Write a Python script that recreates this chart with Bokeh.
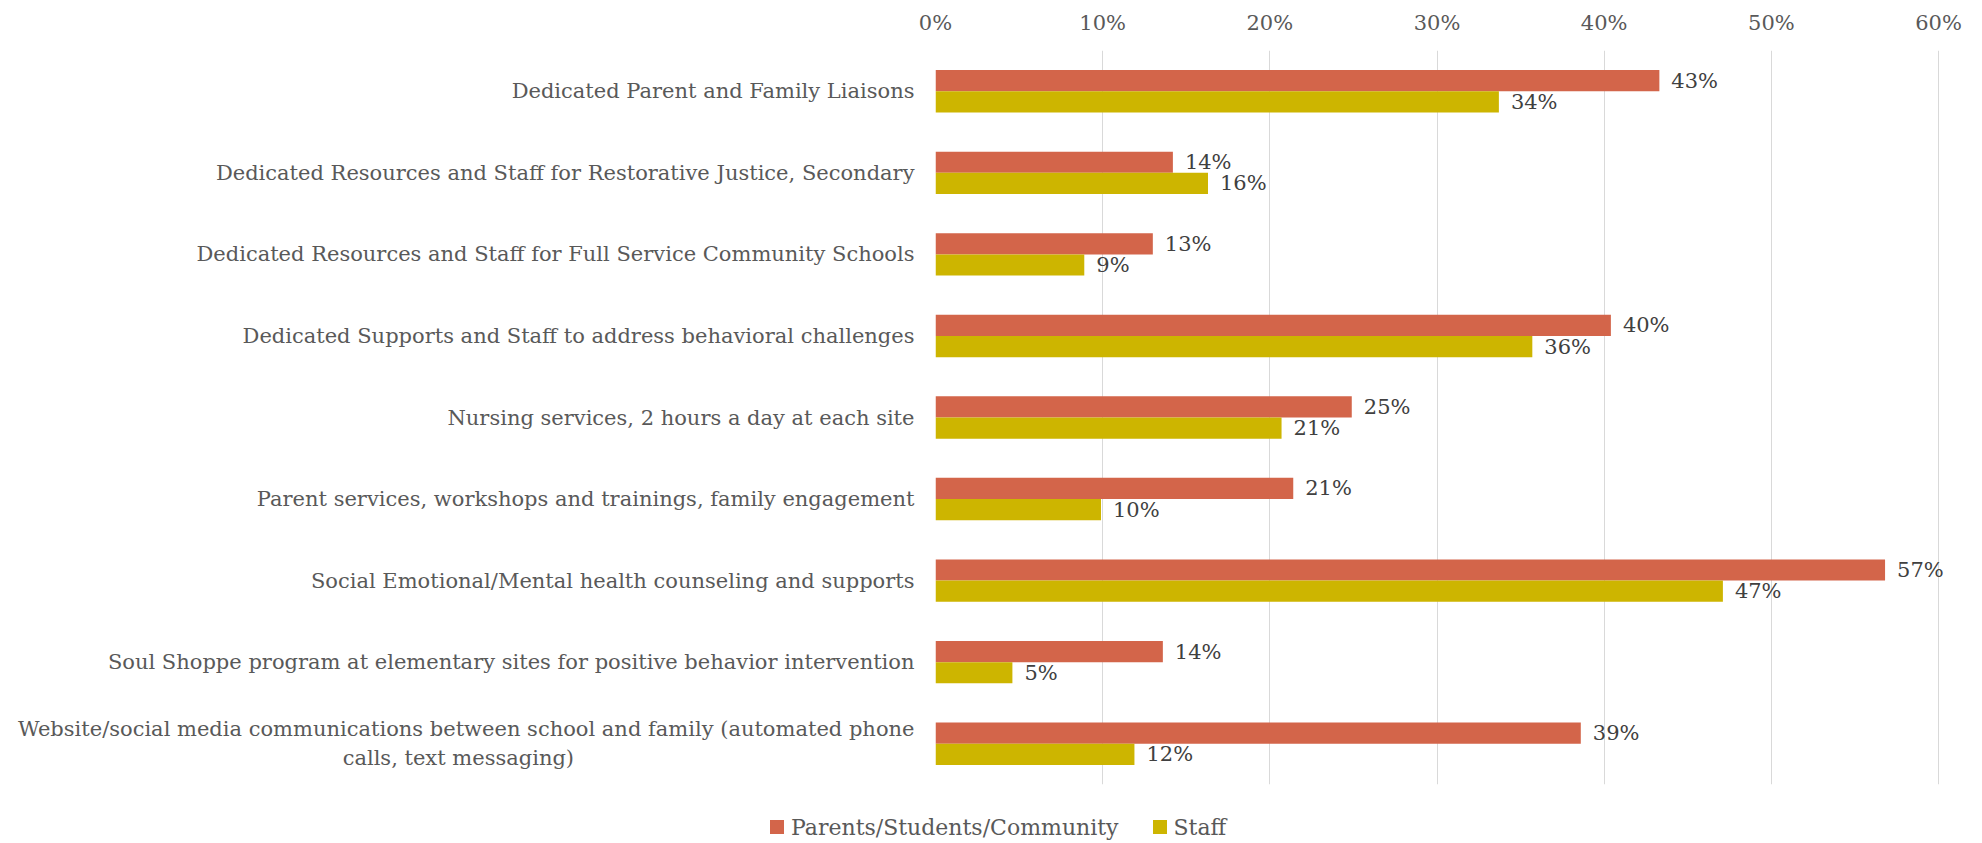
from bokeh.plotting import figure
from bokeh.layouts import column
from bokeh.models import (ColumnDataSource, FactorRange, Range1d, FixedTicker,
                          PrintfTickFormatter, Div)
from bokeh.transform import dodge
from bokeh.embed import file_html
from bokeh.resources import INLINE

categories = [
    "Dedicated Parent and Family Liaisons",
    "Dedicated Resources and Staff for Restorative Justice, Secondary",
    "Dedicated Resources and Staff for Full Service Community Schools",
    "Dedicated Supports and Staff to address behavioral challenges",
    "Nursing services, 2 hours a day at each site",
    "Parent services, workshops and trainings, family engagement",
    "Social Emotional/Mental health counseling and supports",
    "Soul Shoppe program at elementary sites for positive behavior intervention",
    "Website/social media communications between school and family (automated phone\n"
    "calls, text messaging)" + "\u00a0" * 51,
]
parents = [43.3, 14.2, 13.0, 40.4, 24.9, 21.4, 56.8, 13.6, 38.6]
staff = [33.7, 16.3, 8.9, 35.7, 20.7, 9.9, 47.1, 4.6, 11.9]
x_ticks = [0, 10, 20, 30, 40, 50, 60]
series_names = ["Parents/Students/Community", "Staff"]

RED = "#D3654A"
YEL = "#CDB500"
FONT = "DejaVu Serif"
FS = "21px"

src = ColumnDataSource(dict(
    cat=categories,
    parents=parents,
    staff=staff,
    plab=[f"{round(v)}%" for v in parents],
    slab=[f"{round(v)}%" for v in staff],
))

# frame spans 935..1975 px; 60% gridline sits at 1938 px
p = figure(width=1982, height=790, output_backend="svg", toolbar_location=None,
           y_range=FactorRange(factors=list(reversed(categories))),
           x_range=Range1d(0, 62.21), x_axis_location="above",
           min_border_left=935, min_border_right=7, min_border_top=50,
           min_border_bottom=6)
p.outline_line_color = None
p.background_fill_color = "white"

r1 = p.hbar(y=dodge("cat", 0.13, range=p.y_range), right="parents", height=0.26,
            source=src, color=RED, line_color=None)
r2 = p.hbar(y=dodge("cat", -0.13, range=p.y_range), right="staff", height=0.26,
            source=src, color=YEL, line_color=None)

p.text(x="parents", y=dodge("cat", 0.13, range=p.y_range), text="plab", source=src,
       x_offset=12, text_baseline="middle", text_font={"value": FONT},
       text_font_size=FS, text_color="#404040")
p.text(x="staff", y=dodge("cat", -0.13, range=p.y_range), text="slab", source=src,
       x_offset=12, text_baseline="middle", text_font={"value": FONT},
       text_font_size=FS, text_color="#404040")

xa = p.xaxis[0]
xa.ticker = FixedTicker(ticks=x_ticks)
xa.formatter = PrintfTickFormatter(format="%d%%")
xa.axis_line_color = None
xa.major_tick_line_color = None
xa.minor_tick_line_color = None
xa.major_label_text_font = FONT
xa.major_label_text_font_size = FS
xa.major_label_text_color = "#595959"
xa.major_label_standoff = 10

ya = p.yaxis[0]
ya.axis_line_color = None
ya.major_tick_line_color = None
ya.minor_tick_line_color = None
ya.major_label_text_font = FONT
ya.major_label_text_font_size = FS
ya.major_label_text_color = "#595959"
ya.major_label_standoff = 15

p.xgrid.grid_line_color = "#D9D9D9"
p.xgrid.grid_line_width = 1
p.ygrid.grid_line_color = None

# legend strip below the chart
sq = ("display:inline-block;width:14px;height:14px;margin-right:7px;"
      "vertical-align:middle;position:relative;top:-2px;background:{c}")
legend_html = (
    f'<div style="font-family:\'{FONT}\';font-size:22px;color:#595959;'
    f'white-space:nowrap;padding-left:770px;padding-top:26px;line-height:24px">'
    f'<span style="{sq.format(c=RED)}"></span>{series_names[0]}'
    f'<span style="display:inline-block;width:34px"></span>'
    f'<span style="{sq.format(c=YEL)}"></span>{series_names[1]}'
    f'</div>'
)
leg = Div(text=legend_html, width=1982, height=53, margin=0)

layout = column(p, leg, spacing=0)
open("out.html", "w").write(file_html(layout, INLINE))
